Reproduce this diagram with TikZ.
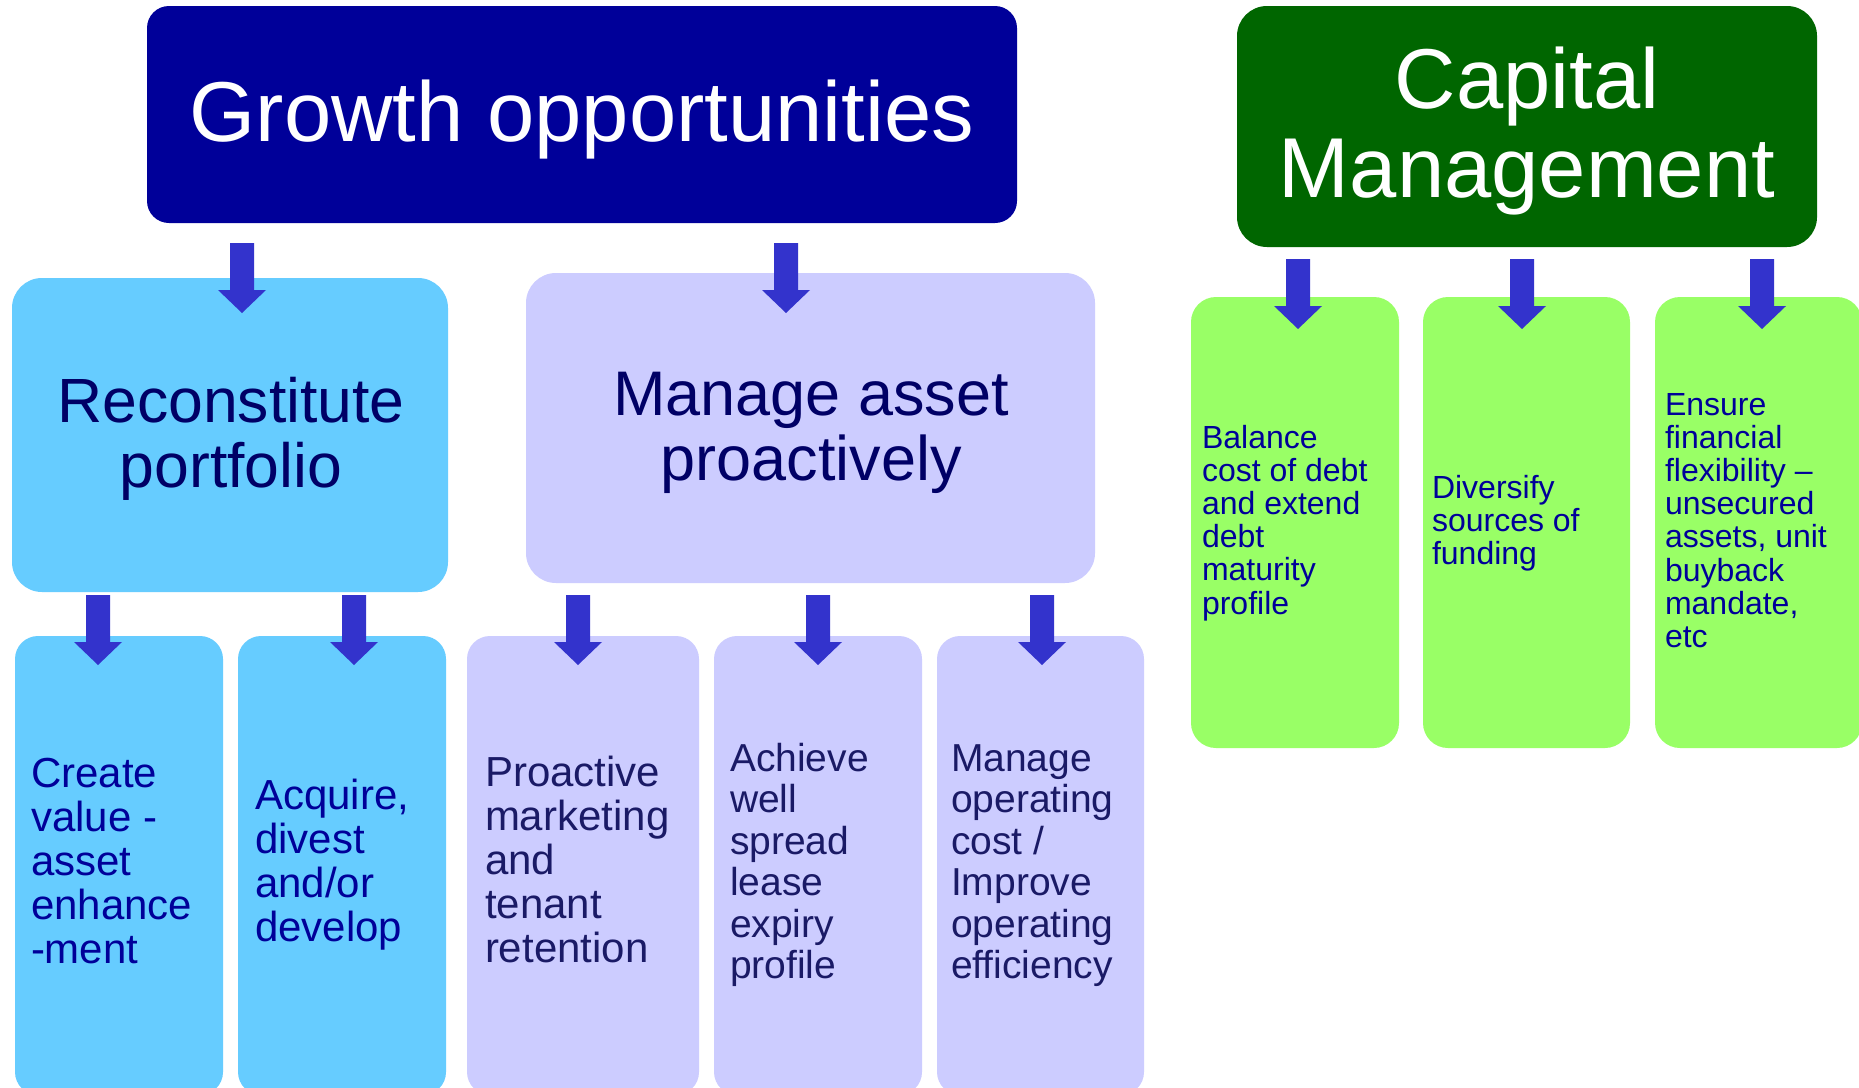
\documentclass[tikz,border=0pt]{standalone}
\usepackage{fontspec}
\setmainfont{Liberation Sans}
\definecolor{arrowblue}{HTML}{3333CC}
\definecolor{growthblue}{HTML}{000099}
\definecolor{capgreen}{HTML}{006600}
\definecolor{lightblue}{HTML}{66CCFF}
\definecolor{lavender}{HTML}{CCCCFF}
\definecolor{lightgreen}{HTML}{99FF66}
\definecolor{navytext}{HTML}{000066}
\definecolor{bluetext}{HTML}{000099}
\definecolor{purpletext}{HTML}{1A1A66}
\tikzset{
  box/.style={rectangle, draw=none, inner sep=0pt, outer sep=0pt},
  txt/.style={inner sep=0pt, outer sep=0pt},
  downarrow/.pic={\fill[arrowblue] (-12,0) -- (12,0) -- (12,47) -- (24,47) -- (0,70) -- (-24,47) -- (-12,47) -- cycle;}
}
\begin{document}
\begin{tikzpicture}[x=1pt,y=-1pt]
\clip (0,0) rectangle (1859,1087);
\fill[white] (0,0) rectangle (1859,1087);
% top boxes
\node[box, fill=growthblue, rounded corners=22pt, minimum width=870pt, minimum height=217pt] (g) at (582,114.5) {};
\node[box, fill=capgreen, rounded corners=30pt, minimum width=580pt, minimum height=241pt] (c) at (1527,126.5) {};
% second level
\node[box, fill=lightblue, rounded corners=30pt, minimum width=436pt, minimum height=314pt] (r) at (230,435) {};
\node[box, fill=lavender, rounded corners=30pt, minimum width=569pt, minimum height=310pt] (m) at (810.5,428) {};
% bottom row
\node[box, fill=lightblue, rounded corners=23pt, minimum width=208pt, minimum height=459pt] (b1) at (119,865.5) {};
\node[box, fill=lightblue, rounded corners=23pt, minimum width=208pt, minimum height=459pt] (b2) at (342,865.5) {};
\node[box, fill=lavender, rounded corners=23pt, minimum width=232pt, minimum height=459pt] (b3) at (583,865.5) {};
\node[box, fill=lavender, rounded corners=23pt, minimum width=208pt, minimum height=459pt] (b4) at (818,865.5) {};
\node[box, fill=lavender, rounded corners=23pt, minimum width=207pt, minimum height=459pt] (b5) at (1040.5,865.5) {};
% green boxes
\node[box, fill=lightgreen, rounded corners=25pt, minimum width=208pt, minimum height=451pt] (k1) at (1295,522.5) {};
\node[box, fill=lightgreen, rounded corners=25pt, minimum width=207pt, minimum height=451pt] (k2) at (1526.5,522.5) {};
\node[box, fill=lightgreen, rounded corners=25pt, minimum width=207pt, minimum height=451pt] (k3) at (1758.5,522.5) {};
% arrows
\coordinate (ag1) at (242,243);
\coordinate (ag2) at (786,243);
\coordinate (ar1) at (98,595);
\coordinate (ar2) at (354,595);
\coordinate (am1) at (578,595);
\coordinate (am2) at (818,595);
\coordinate (am3) at (1042,595);
\coordinate (ac1) at (1298,259);
\coordinate (ac2) at (1522,259);
\coordinate (ac3) at (1762,259);
\foreach \a in {ag1,ag2,ar1,ar2,am1,am2,am3,ac1,ac2,ac3} {\pic at (\a) {downarrow};}
% texts (anchor base = baseline of the last line)
\node[txt, anchor=base, text=white, font=\fontsize{85}{90}\selectfont] (tg) at (582,141) {Growth opportunities};
\node[txt, anchor=base, align=center, text=white, font=\fontsize{85}{89}\selectfont] (tc) at (1527,197) {Capital\\Management};
\node[txt, anchor=base, align=center, text=navytext, font=\fontsize{62.5}{65}\selectfont] (tr) at (231,487) {Reconstitute\\portfolio};
\node[txt, anchor=base, align=center, text=navytext, font=\fontsize{63}{65}\selectfont] (tm) at (811,480) {Manage asset\\proactively};
\node[txt, anchor=base west, align=left, text=bluetext, font=\fontsize{42}{44}\selectfont] (t1) at (31,963) {Create\\value -\\asset\\enhance\\-ment};
\node[txt, anchor=base west, align=left, text=bluetext, font=\fontsize{42}{44}\selectfont] (t2) at (255,941) {Acquire,\\divest\\and/or\\develop};
\node[txt, anchor=base west, align=left, text=purpletext, font=\fontsize{42}{44}\selectfont] (t3) at (485,962) {Proactive\\marketing\\and\\tenant\\retention};
\node[txt, anchor=base west, align=left, text=purpletext, font=\fontsize{39}{41.5}\selectfont] (t4) at (730,978.5) {Achieve\\well\\spread\\lease\\expiry\\profile};
\node[txt, anchor=base west, align=left, text=purpletext, font=\fontsize{39}{41.5}\selectfont] (t5) at (951,978.5) {Manage\\operating\\cost /\\Improve\\operating\\efficiency};
\node[txt, anchor=base west, align=left, text=bluetext, font=\fontsize{32}{33.2}\selectfont] (u1) at (1202,614) {Balance\\cost of debt\\and extend\\debt\\maturity\\profile};
\node[txt, anchor=base west, align=left, text=bluetext, font=\fontsize{32}{33.2}\selectfont] (u2) at (1432,564.4) {Diversify\\sources of\\funding};
\node[txt, anchor=base west, align=left, text=bluetext, font=\fontsize{32}{33.2}\selectfont] (u3) at (1665,647.4) {Ensure\\financial\\flexibility –\\unsecured\\assets, unit\\buyback\\mandate,\\etc};
\end{tikzpicture}
\end{document}
